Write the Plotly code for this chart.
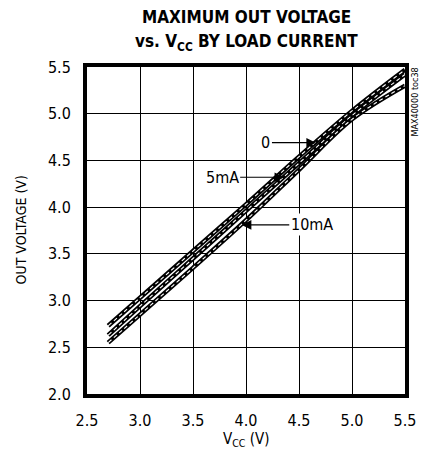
import plotly.graph_objects as go

vcc = [2.7, 3.0, 3.5, 4.0, 4.5, 5.0, 5.5]
out_0ma = [2.73, 3.03, 3.53, 4.03, 4.54, 5.03, 5.47]
out_5ma = [2.63, 2.94, 3.45, 3.96, 4.47, 4.98, 5.42]
out_10ma = [2.55, 2.85, 3.35, 3.86, 4.40, 4.94, 5.30]
series_names = ["0", "5mA", "10mA"]
x_ticks = [2.5, 3.0, 3.5, 4.0, 4.5, 5.0, 5.5]
y_ticks = [2.0, 2.5, 3.0, 3.5, 4.0, 4.5, 5.0, 5.5]

FONT = "DejaVu Sans Condensed, Liberation Sans Narrow, Roboto, sans-serif"

fig = go.Figure()
for name, ys in zip(series_names, [out_0ma, out_5ma, out_10ma]):
    fig.add_trace(go.Scatter(x=vcc, y=ys, mode="lines", name=name,
                             line=dict(color="black", width=4.5, shape="spline"),
                             showlegend=False))
    fig.add_trace(go.Scatter(x=vcc, y=ys, mode="lines", name=name,
                             line=dict(color="white", width=1.1, dash="4px,3px", shape="spline"),
                             showlegend=False))

ax_common = dict(showgrid=True, gridcolor="black", gridwidth=1, zeroline=False,
                 showline=True, linecolor="black", linewidth=4, mirror=True,
                 ticks="", ticklabelstandoff=9,
                 tickfont=dict(family=FONT, size=16, color="black"))

fig.update_xaxes(range=[2.5, 5.5], tickvals=x_ticks,
                 ticktext=[f"{v:.1f}" for v in x_ticks], **ax_common)
fig.update_yaxes(range=[2.0, 5.5], tickvals=y_ticks,
                 ticktext=[f"{v:.1f}" for v in y_ticks], **ax_common)

# axis titles
fig.add_annotation(x=0.5, y=0, xref="paper", yref="paper", text="V<sub>CC</sub> (V)",
                   showarrow=False, yanchor="middle", yshift=-45,
                   font=dict(family=FONT, size=15, color="black"))
fig.add_annotation(x=0, y=0.5, xref="paper", yref="paper", text="OUT VOLTAGE (V)",
                   showarrow=False, textangle=-90, xanchor="center", xshift=-67,
                   font=dict(family=FONT, size=14, color="black"))

# Title
fig.add_annotation(x=0.5, y=1, xref="paper", yref="paper", text="<b>MAXIMUM OUT VOLTAGE</b>",
                   showarrow=False, yanchor="middle", yshift=50,
                   font=dict(family=FONT, size=17, color="black"))
fig.add_annotation(x=0.5, y=1, xref="paper", yref="paper",
                   text="<b>vs. V<sub>CC</sub> BY LOAD CURRENT</b>",
                   showarrow=False, yanchor="middle", yshift=25,
                   font=dict(family=FONT, size=17, color="black"))

# Labels with arrows
fig.add_annotation(x=4.66, y=4.69, ax=-50, ay=0, text="0", showarrow=True,
                   arrowhead=2, arrowsize=1.6, arrowwidth=1.2, arrowcolor="black",
                   font=dict(family=FONT, size=16, color="black"), bgcolor="white")
fig.add_annotation(x=4.36, y=4.32, ax=-62, ay=0, text="5mA", showarrow=True,
                   arrowhead=2, arrowsize=1.6, arrowwidth=1.2, arrowcolor="black",
                   font=dict(family=FONT, size=16, color="black"), bgcolor="white")
fig.add_annotation(x=3.96, y=3.81, ax=70, ay=0, text="10mA", showarrow=True,
                   arrowhead=2, arrowsize=1.6, arrowwidth=1.2, arrowcolor="black",
                   font=dict(family=FONT, size=16, color="black"), bgcolor="white")

fig.add_annotation(x=1.0, y=1.0, xref="paper", yref="paper", text="MAX40000 toc38",
                   showarrow=False, textangle=-90, xanchor="left", yanchor="top",
                   xshift=2, yshift=1, font=dict(family=FONT, size=9, color="black"))

fig.update_layout(
    width=420, height=441,
    margin=dict(l=79, r=13, t=59, b=55),
    paper_bgcolor="white", plot_bgcolor="white",
)

fig.write_html("out.html")
